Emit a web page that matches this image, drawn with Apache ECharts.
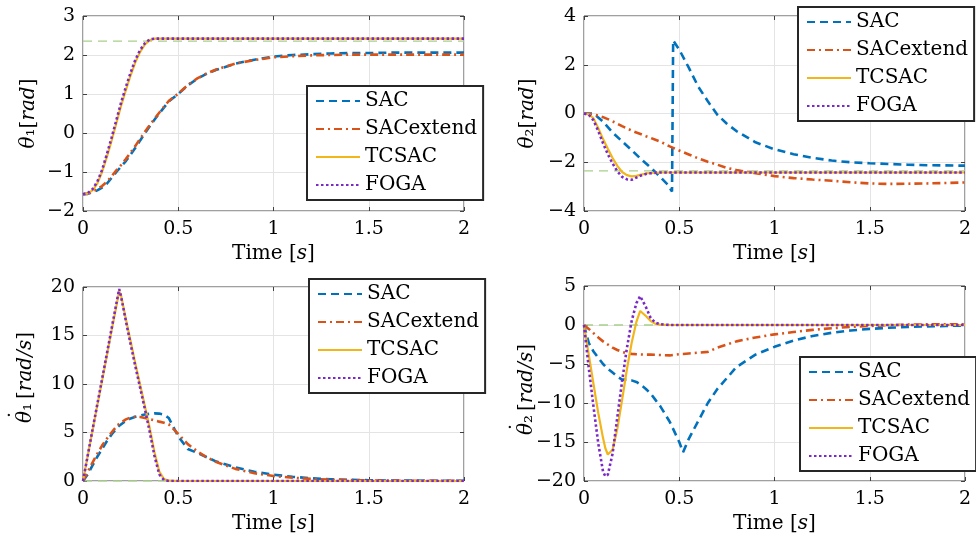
<!DOCTYPE html>
<html>
<head>
<meta charset="utf-8">
<script src="https://cdn.jsdelivr.net/npm/echarts@6/dist/echarts.min.js"></script>
<style>
html,body{margin:0;padding:0;background:#fff;}
#c{width:976px;height:542px;}
</style>
</head>
<body>
<div id="c"></div>
<script>
// ---------- DATA ----------
const seriesNames = ['SAC', 'SACextend', 'TCSAC', 'FOGA'];
const xTicks = [0, 0.5, 1, 1.5, 2];
const refLevels = [2.356, -2.356, 0, 0];

// Panel 1: theta1 [rad]
const t1 = [0,0.025,0.05,0.075,0.1,0.125,0.15,0.175,0.2,0.225,0.25,0.275,0.3,0.325,0.35,0.375,0.4,0.45,0.5,0.55,0.6,0.65,0.7,0.8,0.9,1.0,1.1,1.2,1.3,1.4,1.5,1.6,1.7,1.8,1.9,2.0];
const th1SAC  = [-1.57,-1.56,-1.52,-1.47,-1.40,-1.30,-1.15,-1.00,-0.86,-0.72,-0.55,-0.38,-0.19,-0.01,0.17,0.34,0.50,0.81,1.00,1.22,1.39,1.52,1.62,1.78,1.88,1.96,2.00,2.02,2.04,2.05,2.05,2.06,2.06,2.06,2.06,2.06];
const th1SACx = [-1.57,-1.55,-1.50,-1.44,-1.36,-1.25,-1.11,-0.96,-0.82,-0.67,-0.50,-0.33,-0.15,0.03,0.20,0.36,0.52,0.82,1.01,1.23,1.40,1.53,1.63,1.78,1.87,1.94,1.97,1.99,2.00,2.01,2.01,2.01,2.01,2.01,2.01,2.01];
const th1TC   = [-1.57,-1.55,-1.47,-1.30,-1.00,-0.62,-0.20,0.25,0.70,1.10,1.48,1.82,2.08,2.27,2.38,2.42,2.42,2.42,2.42,2.42,2.42,2.42,2.42,2.42,2.42,2.42,2.42,2.42,2.42,2.42,2.42,2.42,2.42,2.42,2.42,2.42];
const th1FO   = [-1.57,-1.54,-1.44,-1.25,-0.95,-0.55,-0.12,0.33,0.78,1.18,1.55,1.88,2.13,2.30,2.40,2.42,2.42,2.42,2.42,2.42,2.42,2.42,2.42,2.42,2.42,2.42,2.42,2.42,2.42,2.42,2.42,2.42,2.42,2.42,2.42,2.42];

// Panel 2: theta2 [rad]
const t2sac = [0,0.05,0.1,0.15,0.2,0.25,0.3,0.35,0.4,0.44,0.462,0.468,0.5,0.55,0.6,0.65,0.7,0.75,0.8,0.9,1.0,1.1,1.2,1.3,1.4,1.5,1.6,1.7,1.8,1.9,2.0];
const th2SAC  = [0,0,-0.33,-0.78,-1.14,-1.50,-1.88,-2.22,-2.60,-2.92,-3.20,3.00,2.62,1.88,1.10,0.50,-0.05,-0.42,-0.72,-1.18,-1.47,-1.67,-1.82,-1.93,-2.00,-2.04,-2.07,-2.10,-2.12,-2.13,-2.14];
const t2 = [0,0.025,0.05,0.075,0.1,0.125,0.15,0.175,0.2,0.225,0.25,0.275,0.3,0.325,0.35,0.375,0.4,0.45,0.5,0.55,0.6,0.65,0.7,0.75,0.8,0.9,1.0,1.1,1.2,1.3,1.4,1.5,1.6,1.7,1.8,1.9,2.0];
const th2SACx = [0,-0.02,-0.04,-0.09,-0.15,-0.23,-0.32,-0.42,-0.52,-0.61,-0.70,-0.78,-0.85,-0.93,-1.00,-1.08,-1.15,-1.35,-1.52,-1.68,-1.84,-1.98,-2.10,-2.23,-2.32,-2.45,-2.57,-2.65,-2.71,-2.76,-2.82,-2.87,-2.89,-2.88,-2.87,-2.85,-2.83];
const th2TC   = [0,-0.03,-0.20,-0.60,-1.05,-1.45,-1.83,-2.15,-2.40,-2.53,-2.58,-2.56,-2.51,-2.46,-2.44,-2.43,-2.42,-2.42,-2.42,-2.42,-2.42,-2.42,-2.42,-2.42,-2.42,-2.42,-2.42,-2.42,-2.42,-2.42,-2.42,-2.42,-2.42,-2.42,-2.42,-2.42,-2.42];
const th2FO   = [0,-0.05,-0.28,-0.72,-1.22,-1.67,-2.05,-2.37,-2.60,-2.70,-2.72,-2.63,-2.54,-2.48,-2.45,-2.43,-2.42,-2.42,-2.42,-2.42,-2.42,-2.42,-2.42,-2.42,-2.42,-2.42,-2.42,-2.42,-2.42,-2.42,-2.42,-2.42,-2.42,-2.42,-2.42,-2.42,-2.42];

// Panel 3: dtheta1 [rad/s]
const t3 = [0,0.025,0.05,0.075,0.1,0.125,0.15,0.175,0.19,0.2,0.225,0.25,0.275,0.3,0.325,0.35,0.375,0.4,0.425,0.45,0.5,0.55,0.6,0.65,0.7,0.8,0.9,1.0,1.1,1.2,1.3,1.4,1.5,1.6,1.7,1.8,1.9,2.0];
const dth1SAC  = [0,0.7,1.6,2.5,3.3,4.1,4.8,5.4,5.7,5.85,6.2,6.45,6.62,6.75,6.85,6.93,6.97,6.95,6.85,6.5,4.6,3.3,2.9,2.45,2.0,1.4,0.95,0.65,0.43,0.28,0.18,0.12,0.08,0.05,0.04,0.03,0.02,0.02];
const dth1SACx = [0,0.95,1.9,2.8,3.65,4.35,5.0,5.6,5.9,6.05,6.35,6.55,6.62,6.6,6.5,6.38,6.25,6.12,6.0,5.85,4.85,3.8,3.05,2.45,1.95,1.25,0.8,0.52,0.34,0.22,0.14,0.09,0.06,0.04,0.03,0.02,0.01,0.01];
const dth1TC   = [0,2.6,5.2,7.8,10.3,12.9,15.5,18.0,19.6,19.1,16.7,14.4,12.1,9.9,7.7,5.5,3.0,1.0,0.2,0.03,0,0,0,0,0,0,0,0,0,0,0,0,0,0,0,0,0,0];
const dth1FO   = [0,2.65,5.3,7.9,10.5,13.1,15.7,18.3,19.8,19.0,16.5,14.1,11.8,9.6,7.4,5.1,2.6,0.7,0.1,0,0,0,0,0,0,0,0,0,0,0,0,0,0,0,0,0,0,0];

// Panel 4: dtheta2 [rad/s]
const t4 = [0,0.025,0.05,0.075,0.1,0.112,0.125,0.15,0.175,0.2,0.225,0.25,0.275,0.295,0.3,0.325,0.35,0.375,0.4,0.45,0.5,0.52,0.55,0.6,0.65,0.7,0.8,0.9,1.0,1.1,1.2,1.3,1.4,1.5,1.6,1.7,1.8,1.9,2.0];
const dth2SAC  = [0,-2.3,-3.4,-4.2,-5.0,-5.3,-5.6,-6.1,-6.6,-7.0,-7.0,-7.1,-7.3,-7.6,-7.7,-8.2,-8.8,-9.6,-10.4,-12.4,-15.0,-16.3,-14.6,-12.3,-10.0,-8.2,-5.4,-3.8,-2.8,-2.0,-1.4,-1.0,-0.7,-0.5,-0.35,-0.25,-0.18,-0.12,-0.08];
const dth2SACx = [0,-0.5,-1.05,-1.6,-2.1,-2.3,-2.5,-2.9,-3.2,-3.45,-3.6,-3.7,-3.75,-3.78,-3.78,-3.8,-3.8,-3.82,-3.85,-3.9,-3.75,-3.72,-3.65,-3.55,-3.45,-2.9,-2.1,-1.6,-1.2,-0.9,-0.62,-0.42,-0.25,-0.12,-0.02,0.05,0.08,0.08,0.08];
const dth2TC   = [0,-3.8,-7.6,-11.3,-14.5,-15.8,-16.6,-16.0,-13.3,-9.6,-5.7,-2.3,0.4,1.8,1.95,1.15,0.5,0.15,0.05,0,0,0,0,0,0,0,0,0,0,0,0,0,0,0,0,0,0,0,0];
const dth2FO   = [0,-5.5,-10.5,-15.2,-18.8,-19.4,-19.2,-16.5,-11.8,-7.2,-3.0,0.5,2.8,3.7,3.6,2.3,0.9,0.3,0.1,0,0,0,0,0,0,0,0,0,0,0,0,0,0,0,0,0,0,0,0];

const yRanges = [[-2,3,1],[-4,4,2],[0,20,5],[-20,5,5]];

// ---------- STYLE / LAYOUT ----------
const FONT = 'DejaVu Serif';
const colors = {SAC:'#0072BD', SACextend:'#D95319', TCSAC:'#F2B61A', FOGA:'#7A28C8'};
const dashes = {SAC:[8,5], SACextend:[8,4,2,4], TCSAC:'solid', FOGA:[2.5,2.5]};
const grids = [
  {left:83, top:16, width:381, height:195},
  {left:584, top:16, width:381, height:195},
  {left:83, top:287, width:381, height:194},
  {left:584, top:286, width:381, height:195}
];
const TH = '\u03B8';
const yNames = [
  '{it|' + TH + '}{n|\u2081[}{it|rad}{n|]}',
  '{it|' + TH + '}{n|\u2082[}{it|rad}{n|]}',
  '', ''
];
// dotted-theta labels, drawn as rotated text, with the time-derivative dot placed above theta
const dotLabels = [
  {x:36, y:423, dx:18, dy:415, text:'{it|' + TH + '}{n|\u2081\u2009[}{it|rad/s}{n|]}'},
  {x:537, y:435, dx:519, dy:427, text:'{it|' + TH + '}{n|\u2082\u2009[}{it|rad/s}{n|]}'}
];
const legendPos = [
  {left:307, top:86},
  {left:798, top:7},
  {left:309, top:279},
  {left:800, top:357}
];
const panelData = [
  {t:[t1,t1,t1,t1], y:[th1SAC,th1SACx,th1TC,th1FO]},
  {t:[t2sac,t2,t2,t2], y:[th2SAC,th2SACx,th2TC,th2FO]},
  {t:[t3,t3,t3,t3], y:[dth1SAC,dth1SACx,dth1TC,dth1FO]},
  {t:[t4,t4,t4,t4], y:[dth2SAC,dth2SACx,dth2TC,dth2FO]}
];

const fmt = v => (Math.round(v*10)/10).toString().replace('-', '\u2212');
const richName = {
  it:{fontFamily:FONT, fontStyle:'italic', fontSize:20, color:'#000'},
  n:{fontFamily:FONT, fontSize:20, color:'#000'}
};
const tickStyle = {show:true, inside:true, length:4, lineStyle:{color:'#404040'}};

const xAxes = [], yAxes = [], series = [], legends = [];
grids.forEach((g, i) => {
  const [ymin, ymax, yint] = yRanges[i];
  xAxes.push({
    type:'value', gridIndex:i, min:0, max:2, interval:0.5, position:'bottom',
    axisLine:{show:false, onZero:false},
    axisTick:tickStyle,
    axisLabel:{fontFamily:FONT, fontSize:19, color:'#000', margin:9, formatter:fmt},
    splitLine:{show:true, lineStyle:{color:'#e4e4e4', width:1}},
    name:'Time [{it|s}]', nameLocation:'middle', nameGap:33,
    nameTextStyle:{fontFamily:FONT, fontSize:20, color:'#000', rich:richName}
  });
  xAxes.push({
    type:'value', gridIndex:i, min:0, max:2, interval:0.5, position:'top',
    axisLine:{show:false, onZero:false}, axisLabel:{show:false}, splitLine:{show:false},
    axisTick:tickStyle
  });
  yAxes.push({
    type:'value', gridIndex:i, min:ymin, max:ymax, interval:yint, position:'left',
    axisLine:{show:false, onZero:false},
    axisTick:tickStyle,
    axisLabel:{fontFamily:FONT, fontSize:19, color:'#000', margin:8, formatter:fmt},
    splitLine:{show:true, lineStyle:{color:'#e4e4e4', width:1}},
    name:yNames[i], nameLocation:'middle', nameGap:(i%2===0?44:46), nameRotate:90,
    nameTextStyle:{fontFamily:FONT, fontSize:20, color:'#000', rich:richName}
  });
  yAxes.push({
    type:'value', gridIndex:i, min:ymin, max:ymax, interval:yint, position:'right',
    axisLine:{show:false, onZero:false}, axisLabel:{show:false}, splitLine:{show:false},
    axisTick:tickStyle
  });
  // reference (target) line
  series.push({
    type:'line', name:'ref'+i, xAxisIndex:2*i, yAxisIndex:2*i, z:1,
    data:[[0, refLevels[i]], [2, refLevels[i]]],
    symbol:'none', silent:true,
    lineStyle:{color:'#a8d08a', width:1.3, type:[9,6]}
  });
  seriesNames.forEach((nm, k) => {
    const pd = panelData[i];
    series.push({
      type:'line', name:nm, xAxisIndex:2*i, yAxisIndex:2*i, z:2+k,
      data: pd.t[k].map((tt, j) => [tt, pd.y[k][j]]),
      symbol:'none', showSymbol:false, animation:false,
      lineStyle:{color:colors[nm], width:(nm==='TCSAC'?2.2:2.6), type:dashes[nm]},
      itemStyle:{color:colors[nm]}
    });
  });
  legends.push({
    data:seriesNames, orient:'vertical', left:legendPos[i].left, top:legendPos[i].top,
    backgroundColor:'#fff', borderColor:'#262626', borderWidth:2,
    padding:[5,6,5,8], itemWidth:44, itemHeight:20, itemGap:8,
    selectedMode:false, z:10,
    itemStyle:{opacity:0},
    textStyle:{fontFamily:FONT, fontSize:20, color:'#000'}
  });
});

const graphics = [];
dotLabels.forEach(L => {
  graphics.push({
    type:'text', x:L.x, y:L.y, rotation:Math.PI/2, z:10,
    style:{text:L.text, rich:richName, align:'left', verticalAlign:'bottom',
           fontFamily:FONT, fontSize:20, fill:'#000'}
  });
  graphics.push({
    type:'text', x:L.dx, y:L.dy, rotation:Math.PI/2, z:10,
    style:{text:'\u02D9', align:'center', verticalAlign:'middle',
           fontFamily:FONT, fontSize:20, fill:'#000'}
  });
});

const chart = echarts.init(document.getElementById('c'), null, {renderer:'canvas'});
chart.setOption({
  animation:false,
  backgroundColor:'#fff',
  grid: grids.map(g => Object.assign({show:true, borderColor:'#404040', borderWidth:1, backgroundColor:'transparent'}, g)),
  xAxis: xAxes,
  yAxis: yAxes,
  legend: legends,
  graphic: graphics,
  series: series
});
</script>
</body>
</html>
